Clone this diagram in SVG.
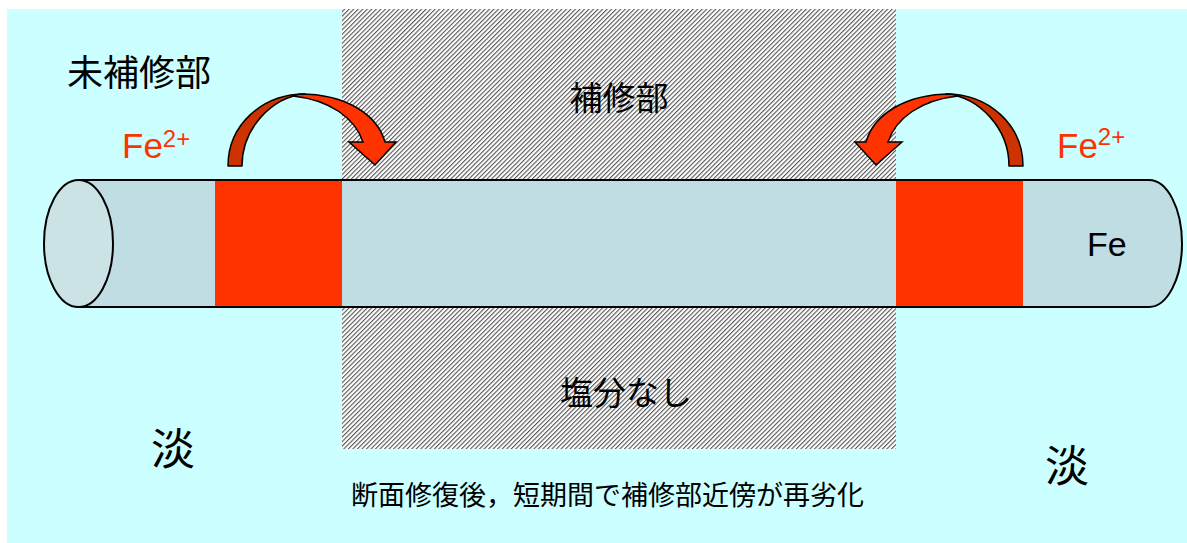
<svg xmlns="http://www.w3.org/2000/svg" width="1187" height="543" viewBox="0 0 1187 543">
<defs>
<style>
.jp{font-family:"Noto Sans CJK JP","Noto Sans CJK SC",sans-serif;fill:#000}
.fe{font-family:"Liberation Sans",Arial,sans-serif}
.red{fill:#FF3300}
.ol{fill:none;stroke:#000;stroke-width:2}
.arD{fill:#CC3300;stroke:#000;stroke-width:1.5;stroke-linejoin:round}
.arF{fill:#FF3300;stroke:#000;stroke-width:1.5;stroke-linejoin:miter}
</style>
<pattern id="hatch" patternUnits="userSpaceOnUse" width="3.2" height="10" patternTransform="rotate(45)">
<rect width="3.2" height="10" fill="#fff"/>
<rect width="1.1" height="10" fill="#555"/>
</pattern>
<g id="arrowShape">
<path class="arD" d="M228,166 C228,125 262,94 305,94 C272,97 242,128 242,166 Z"/>
<path class="arF" d="M300,94 C345,94 377,114 385,142 L396,142 L375,165 L349,142 L363,142 C355,118 330,100 293,96 Z"/>
</g>
</defs>
<g id="background">
<rect x="7" y="9" width="1180" height="534" fill="#CCFFFF"/>
<rect x="342" y="9" width="554" height="440" fill="url(#hatch)"/>
</g>
<g id="cylinder">
<path d="M78,180 L1149,180 A33,63.5 0 0 1 1149,307 L78,307 Z" fill="#BFDDE2"/>
<rect class="red" x="215" y="180" width="127" height="127"/>
<rect class="red" x="896" y="180" width="127" height="127"/>
<path class="ol" d="M78,180 L1149,180 A33,63.5 0 0 1 1149,307 L78,307"/>
<ellipse cx="78.5" cy="243.5" rx="34.5" ry="63.5" fill="#CCE3E6" stroke="#000" stroke-width="2"/>
<text class="fe" x="1087" y="256" font-size="34" fill="#000">Fe</text>
</g>
<g id="connectors">
<use href="#arrowShape"/>
<use href="#arrowShape" transform="translate(1251,0) scale(-1,1)"/>
</g>
<g id="label-unrepaired">
<text class="jp" x="67" y="86" font-size="36">未補修部</text>
</g>
<g id="label-repaired">
<text class="jp" x="619" y="110" font-size="33" text-anchor="middle">補修部</text>
</g>
<g id="label-nosalt">
<text class="jp" x="626" y="405" font-size="33" text-anchor="middle">塩分なし</text>
</g>
<g id="label-fe-left">
<text class="fe red" x="122" y="158" font-size="35">Fe<tspan font-size="24" dy="-11">2+</tspan></text>
</g>
<g id="label-fe-right">
<text class="fe red" x="1057" y="158" font-size="35">Fe<tspan font-size="24" dy="-13">2+</tspan></text>
</g>
<g id="label-tan-left">
<text class="jp" x="151" y="465" font-size="44">淡</text>
</g>
<g id="label-tan-right">
<text class="jp" x="1045" y="482" font-size="44">淡</text>
</g>
<g id="label-caption">
<text class="jp" x="351" y="505" font-size="27">断面修復後，短期間で補修部近傍が再劣化</text>
</g>
</svg>
